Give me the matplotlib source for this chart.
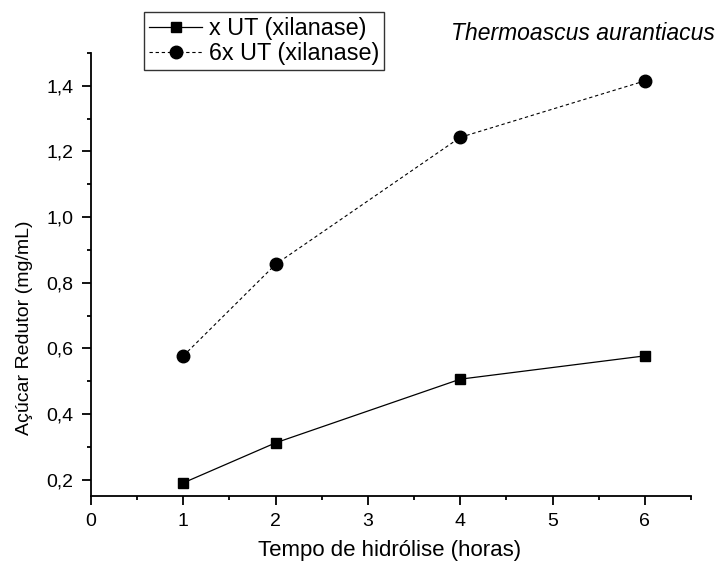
import matplotlib
matplotlib.use('Agg')
import matplotlib.pyplot as plt
from matplotlib.ticker import MultipleLocator, FuncFormatter

# Data
horas = [1, 2, 4, 6]
ut_1x = [0.19, 0.312, 0.506, 0.577]
ut_6x = [0.577, 0.856, 1.243, 1.415]

plt.rcParams['font.family'] = ['Liberation Sans', 'DejaVu Sans']

fig = plt.figure(figsize=(7.19, 5.72), dpi=100)
ax = fig.add_axes([0.1266, 0.1329, 0.8344, 0.7744])

ax.plot(horas, ut_1x, 'k-', marker='s', ms=7.5, lw=0.9, label='x UT (xilanase)')
ax.plot(horas, ut_6x, color='k', ls=(0, (3, 2.5)), marker='o', ms=9, lw=0.8,
        label='6x UT (xilanase)')

ax.set_xlim(0, 6.5)
ax.set_ylim(0.15, 1.5)

ax.xaxis.set_major_locator(MultipleLocator(1))
ax.xaxis.set_minor_locator(MultipleLocator(0.5))
ax.yaxis.set_major_locator(MultipleLocator(0.2))
ax.yaxis.set_minor_locator(MultipleLocator(0.1))
ax.yaxis.set_major_formatter(FuncFormatter(lambda v, p: f'{v:.1f}'.replace('.', ',')))

ax.spines['top'].set_visible(False)
ax.spines['right'].set_visible(False)
for s in ('left', 'bottom'):
    ax.spines[s].set_linewidth(1.3)
ax.tick_params(which='major', direction='out', length=6.5, width=1.3, labelsize=14, pad=6)
ax.tick_params(which='minor', direction='out', length=3, width=1.3)

ax.set_xlabel('Tempo de hidrólise (horas)', fontsize=16)
ax.xaxis.set_label_coords(0.498, -0.1)
ax.set_ylabel('Açúcar Redutor (mg/mL)', fontsize=14)
ax.yaxis.set_label_coords(-0.097, 0.38)

leg = fig.legend(loc='upper left', bbox_to_anchor=(0.2003, 0.979), fontsize=16.8,
                 frameon=True, fancybox=False, edgecolor='k', handlelength=2.3,
                 borderpad=0.2, labelspacing=0.12, handletextpad=0.3,
                 borderaxespad=0)
leg.get_frame().set_linewidth(1.0)

fig.text(0.9944, 0.9406, 'Thermoascus aurantiacus', ha='right', va='center',
         fontsize=16.5, style='italic')

fig.savefig('out.png', dpi=100)
